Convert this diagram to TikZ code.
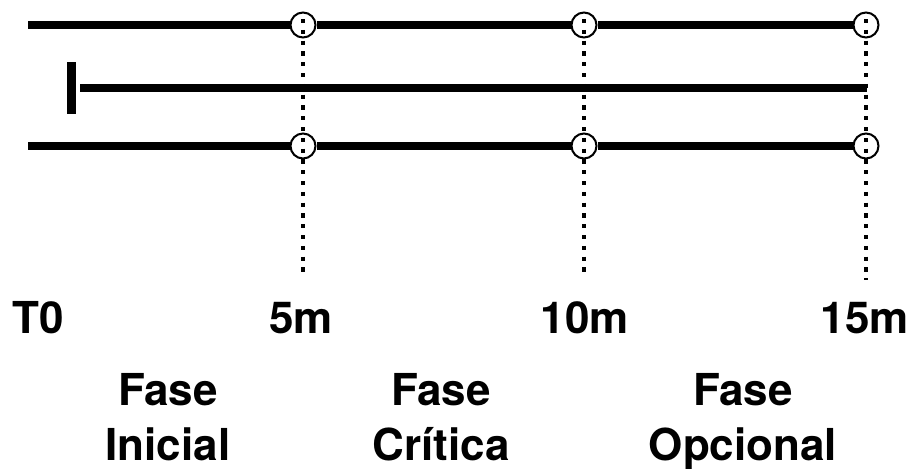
\documentclass[tikz,border=0pt]{standalone}
\usepackage{fontspec}
\setmainfont{TeX Gyre Heros}
\begin{document}
\begin{tikzpicture}[x=1pt,y=-1pt,
  track/.style={line width=7.5pt},
  milestone/.style={circle,draw,line width=2pt,inner sep=0pt,minimum size=25pt},
  guide/.style={line width=4.5pt,dash pattern=on 4.2pt off 6.6pt},
  label/.style={font=\bfseries\fontsize{44}{55}\selectfont,inner sep=0pt,anchor=base,align=center}]
\useasboundingbox (0,0) rectangle (914,469);

% time stamps along the three tracks
\foreach \n/\x in {1/303,2/584,3/866}{
  \node[milestone] (t\n) at (\x,25) {};
  \node[milestone] (b\n) at (\x,146) {};
  \coordinate (g\n) at (\x,19);
}
\coordinate (gend1) at (303,273);
\coordinate (gend2) at (584,273);
\coordinate (gend3) at (866,280);

% top track
\coordinate (ts) at (28,25);
\draw[track] (ts) -- (t1);
\draw[track] (t1) -- (t2);
\draw[track] (t2) -- (t3);

% middle track with start bar
\node[fill,inner sep=0pt,minimum width=9pt,minimum height=52pt] (bar) at (71.4,88) {};
\coordinate (ms) at (80,88);
\coordinate (me) at (867,88);
\draw[line width=8.5pt] (ms) -- (me);

% bottom track
\coordinate (bs) at (28,146);
\draw[track] (bs) -- (b1);
\draw[track] (b1) -- (b2);
\draw[track] (b2) -- (b3);

% dotted guides
\draw[guide] (g1) -- (gend1);
\draw[guide] (g2) -- (gend2);
\draw[guide] (g3) -- (gend3);

% time labels
\node[label] (l0) at (38,333) {T0};
\node[label] (l5) at (301,333) {5m};
\node[label] (l10) at (585,333) {10m};
\node[label] (l15) at (865,333) {15m};

% phase labels (anchored on the baseline of the second line)
\node[label] (p1) at (168,460) {Fase\\Inicial};
\node[label] (p2) at (441,460) {Fase\\Crítica};
\node[label] (p3) at (743,460) {Fase\\Opcional};
\end{tikzpicture}
\end{document}
